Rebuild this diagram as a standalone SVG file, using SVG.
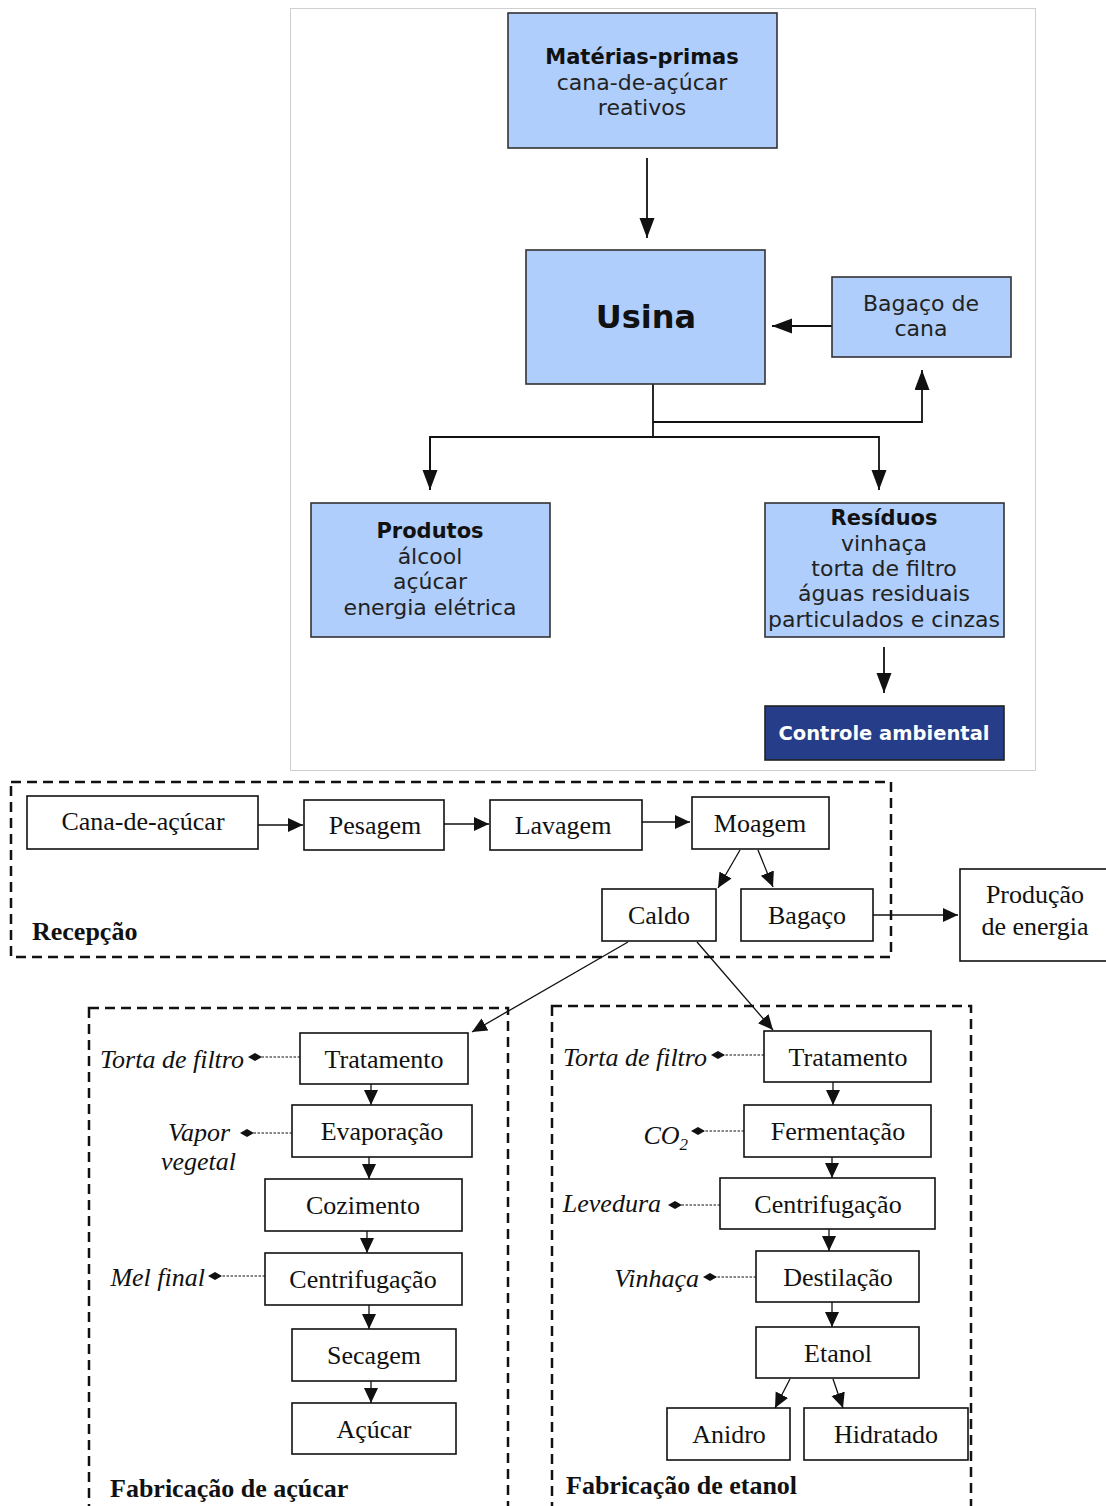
<svg xmlns="http://www.w3.org/2000/svg" width="1106" height="1506" viewBox="0 0 1106 1506">
<style>
.tb{fill:#afcefc;stroke:#333;stroke-width:1.6}
.ts{font-family:"DejaVu Sans",sans-serif;font-size:22px;fill:#222;text-anchor:middle}
.tsb{font-family:"DejaVu Sans",sans-serif;font-size:21px;font-weight:bold;fill:#111;text-anchor:middle}
.tl{stroke:#111;stroke-width:1.8;fill:none}
.b{fill:#fff;stroke:#111;stroke-width:1.6}
.t{font-family:"Liberation Serif","Times New Roman",serif;font-size:26px;fill:#111;text-anchor:middle}
.ti{font-family:"Liberation Serif","Times New Roman",serif;font-size:26px;font-style:italic;fill:#111;text-anchor:end}
.tB{font-family:"Liberation Serif","Times New Roman",serif;font-size:26px;font-weight:bold;fill:#111}
.dash{fill:none;stroke:#111;stroke-width:2.5;stroke-dasharray:10,6}
.c{stroke:#111;stroke-width:1.3;fill:none}
.dot{stroke:#111;stroke-width:1;fill:none;stroke-dasharray:2.5,1.5}
</style>
<defs>
<marker id="ab" markerUnits="userSpaceOnUse" markerWidth="22" markerHeight="16" refX="20" refY="7.5" orient="auto"><path d="M0,0 L20,7.5 L0,15 Z" fill="#111"/></marker>
<marker id="as" markerUnits="userSpaceOnUse" markerWidth="16" markerHeight="15" refX="15" refY="7" orient="auto"><path d="M0,0 L15,7 L0,14 Z" fill="#111"/></marker>
<marker id="dia" markerUnits="userSpaceOnUse" markerWidth="14" markerHeight="10" refX="7" refY="5" orient="auto"><path d="M0,5 L7,1 L14,5 L7,9 Z" fill="#111"/></marker>
</defs>
<rect x="290.5" y="8.5" width="745" height="762" fill="#fff" stroke="#cfcfcf" stroke-width="1"/>
<g id="connectors">
<line class="tl" x1="647" y1="158" x2="647" y2="238" marker-end="url(#ab)"/>
<line class="tl" x1="832" y1="326" x2="772" y2="326" marker-end="url(#ab)"/>
<polyline class="tl" points="653,384 653,437"/>
<polyline class="tl" points="653,422 922,422 922,370" marker-end="url(#ab)"/>
<polyline class="tl" points="430,490 430,437 879,437 879,490" marker-end="url(#ab)"/>
<line class="tl" x1="430" y1="437" x2="430" y2="490" marker-end="url(#ab)"/>
<line class="tl" x1="884" y1="647" x2="884" y2="693" marker-end="url(#ab)"/>
<line class="c" x1="258" y1="825" x2="303" y2="825" marker-end="url(#as)"/>
<line class="c" x1="444" y1="824" x2="489" y2="824" marker-end="url(#as)"/>
<line class="c" x1="642" y1="822" x2="690" y2="822" marker-end="url(#as)"/>
<line class="c" x1="740" y1="850" x2="718" y2="888" marker-end="url(#as)"/>
<line class="c" x1="758" y1="850" x2="773" y2="887" marker-end="url(#as)"/>
<line class="c" x1="873" y1="915" x2="958" y2="915" marker-end="url(#as)"/>
<line class="c" x1="628" y1="942" x2="472" y2="1032" marker-end="url(#as)"/>
<line class="c" x1="697" y1="942" x2="773" y2="1030" marker-end="url(#as)"/>
<line class="c" x1="371" y1="1084" x2="371" y2="1105" marker-end="url(#as)"/>
<line class="c" x1="369" y1="1157" x2="369" y2="1179" marker-end="url(#as)"/>
<line class="c" x1="367" y1="1231" x2="367" y2="1253" marker-end="url(#as)"/>
<line class="c" x1="369" y1="1305" x2="369" y2="1329" marker-end="url(#as)"/>
<line class="c" x1="371" y1="1381" x2="371" y2="1403" marker-end="url(#as)"/>
<line class="c" x1="833" y1="1082" x2="833" y2="1105" marker-end="url(#as)"/>
<line class="c" x1="832" y1="1157" x2="832" y2="1178" marker-end="url(#as)"/>
<line class="c" x1="829" y1="1229" x2="829" y2="1251" marker-end="url(#as)"/>
<line class="c" x1="832" y1="1302" x2="832" y2="1327" marker-end="url(#as)"/>
<line class="c" x1="790" y1="1379" x2="775" y2="1408" marker-end="url(#as)"/>
<line class="c" x1="833" y1="1379" x2="843" y2="1408" marker-end="url(#as)"/>
<line class="dot" x1="300" y1="1057" x2="255" y2="1057" marker-end="url(#dia)"/>
<line class="dot" x1="292" y1="1133" x2="247" y2="1133" marker-end="url(#dia)"/>
<line class="dot" x1="265" y1="1276" x2="215" y2="1276" marker-end="url(#dia)"/>
<line class="dot" x1="764" y1="1055" x2="718" y2="1055" marker-end="url(#dia)"/>
<line class="dot" x1="744" y1="1131" x2="698" y2="1131" marker-end="url(#dia)"/>
<line class="dot" x1="720" y1="1205" x2="675" y2="1205" marker-end="url(#dia)"/>
<line class="dot" x1="756" y1="1277" x2="710" y2="1277" marker-end="url(#dia)"/>
</g>
<g id="materias"><rect class="tb" x="508" y="13" width="269" height="135"/>
<text class="tsb" x="642" y="64">Matérias-primas</text>
<text class="ts" x="642" y="90">cana-de-açúcar</text>
<text class="ts" x="642" y="115">reativos</text></g>
<g id="usina"><rect class="tb" x="526" y="250" width="239" height="134"/>
<text class="tsb" x="646" y="328" style="font-size:32px">Usina</text></g>
<g id="bagaco-cana"><rect class="tb" x="832" y="277" width="179" height="80"/>
<text class="ts" x="921" y="311">Bagaço de</text>
<text class="ts" x="921" y="336">cana</text></g>
<g id="produtos"><rect class="tb" x="311" y="503" width="239" height="134"/>
<text class="tsb" x="430" y="538">Produtos</text>
<text class="ts" x="430" y="564">álcool</text>
<text class="ts" x="430" y="589">açúcar</text>
<text class="ts" x="430" y="615">energia elétrica</text></g>
<g id="residuos"><rect class="tb" x="765" y="503" width="239" height="134"/>
<text class="tsb" x="884" y="525">Resíduos</text>
<text class="ts" x="884" y="551">vinhaça</text>
<text class="ts" x="884" y="576">torta de filtro</text>
<text class="ts" x="884" y="601">águas residuais</text>
<text class="ts" x="884" y="627">particulados e cinzas</text></g>
<g id="controle"><rect x="765" y="706" width="239" height="54" fill="#263e8a" stroke="#222" stroke-width="1.6"/>
<text class="tsb" x="884" y="740" style="fill:#fff;font-size:19.5px">Controle ambiental</text></g>
<g id="recepcao"><rect class="dash" x="11" y="782" width="880" height="175"/>
<text class="tB" x="32" y="940">Recepção</text></g>
<g id="fab-acucar"><rect class="dash" x="89" y="1008" width="419" height="530"/>
<text class="tB" x="110" y="1497">Fabricação de açúcar</text></g>
<g id="fab-etanol"><rect class="dash" x="552" y="1006" width="419" height="530"/>
<text class="tB" x="566" y="1494">Fabricação de etanol</text></g>
<g id="cana"><rect class="b" x="27" y="796" width="231" height="53"/><text class="t" x="143" y="830">Cana-de-açúcar</text></g>
<g id="pesagem"><rect class="b" x="304" y="800" width="140" height="50"/><text class="t" x="375" y="834">Pesagem</text></g>
<g id="lavagem"><rect class="b" x="490" y="800" width="152" height="50"/><text class="t" x="563" y="834">Lavagem</text></g>
<g id="moagem"><rect class="b" x="692" y="797" width="137" height="52"/><text class="t" x="760" y="832">Moagem</text></g>
<g id="caldo"><rect class="b" x="602" y="889" width="114" height="52"/><text class="t" x="659" y="924">Caldo</text></g>
<g id="bagaco"><rect class="b" x="741" y="889" width="132" height="52"/><text class="t" x="807" y="924">Bagaço</text></g>
<g id="producao"><rect class="b" x="960" y="869" width="150" height="92"/><text class="t" x="1035" y="903">Produção</text><text class="t" x="1035" y="935">de energia</text></g>
<g id="tratamento-a"><rect class="b" x="300" y="1033" width="168" height="51"/><text class="t" x="384" y="1068">Tratamento</text></g>
<g id="evaporacao"><rect class="b" x="292" y="1105" width="180" height="52"/><text class="t" x="382" y="1140">Evaporação</text></g>
<g id="cozimento"><rect class="b" x="265" y="1179" width="197" height="52"/><text class="t" x="363" y="1214">Cozimento</text></g>
<g id="centrif-a"><rect class="b" x="265" y="1253" width="197" height="52"/><text class="t" x="363" y="1288">Centrifugação</text></g>
<g id="secagem"><rect class="b" x="292" y="1329" width="164" height="52"/><text class="t" x="374" y="1364">Secagem</text></g>
<g id="acucar"><rect class="b" x="292" y="1403" width="164" height="51"/><text class="t" x="374" y="1438">Açúcar</text></g>
<g id="labels-a">
<text class="ti" x="244" y="1068">Torta de filtro</text>
<text class="ti" x="230" y="1141">Vapor</text>
<text class="ti" x="236" y="1170">vegetal</text>
<text class="ti" x="205" y="1286">Mel final</text></g>
<g id="tratamento-e"><rect class="b" x="764" y="1031" width="167" height="51"/><text class="t" x="848" y="1066">Tratamento</text></g>
<g id="fermentacao"><rect class="b" x="744" y="1105" width="187" height="52"/><text class="t" x="838" y="1140">Fermentação</text></g>
<g id="centrif-e"><rect class="b" x="720" y="1178" width="215" height="51"/><text class="t" x="828" y="1213">Centrifugação</text></g>
<g id="destilacao"><rect class="b" x="756" y="1251" width="163" height="51"/><text class="t" x="838" y="1286">Destilação</text></g>
<g id="etanol"><rect class="b" x="756" y="1327" width="163" height="51"/><text class="t" x="838" y="1362">Etanol</text></g>
<g id="anidro"><rect class="b" x="667" y="1408" width="123" height="52"/><text class="t" x="729" y="1443">Anidro</text></g>
<g id="hidratado"><rect class="b" x="804" y="1408" width="164" height="52"/><text class="t" x="886" y="1443">Hidratado</text></g>
<g id="labels-e">
<text class="ti" x="707" y="1066">Torta de filtro</text>
<text class="ti" x="688" y="1144">CO<tspan dy="6" font-size="17">2</tspan></text>
<text class="ti" x="661" y="1212">Levedura</text>
<text class="ti" x="699" y="1287">Vinhaça</text></g>
</svg>
